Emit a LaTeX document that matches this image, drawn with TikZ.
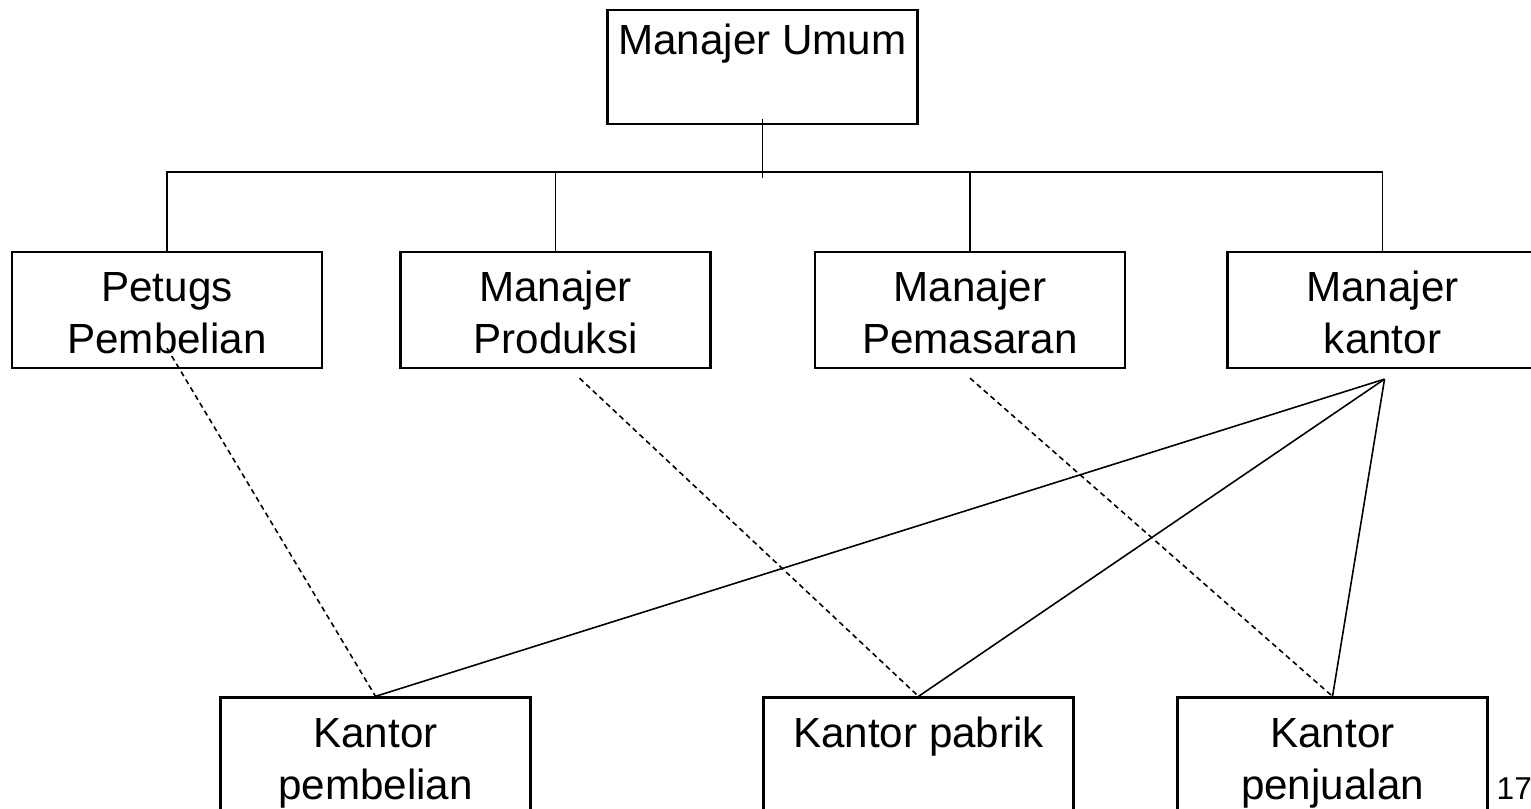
\documentclass[tikz,border=0pt]{standalone}
\usepackage{fontspec}
\setmainfont{Liberation Sans}
\usepackage{tikz}
\tikzset{>=latex}
\tikzset{kotak/.style={draw,line width=0.65pt,inner sep=0pt,minimum width=3.1cm,text height=0.5cm,text depth=0.66cm,font=\fontsize{12}{14.8}\selectfont},
  garis/.style={line width=0.45pt},
  putus/.style={line width=0.45pt,dash pattern=on 1.5pt off 1.1pt}}
\newcommand{\isikotak}[1]{\begin{tabular}[t]{@{}c@{}}#1\end{tabular}}

\begin{document}
\begin{tikzpicture}
  \useasboundingbox (0,0) rectangle (15.31,8.09);
  \node[kotak,text height=0.45cm,text depth=0.69cm] (mu) at (7.625,7.42) {\isikotak{Manajer Umum}};
  \node[kotak] (pb) at (1.67,4.99) {\isikotak{Petugs\\Pembelian}};
  \node[kotak] (mp) at (5.555,4.99) {\isikotak{Manajer\\Produksi}};
  \node[kotak] (mpm) at (9.70,4.99) {\isikotak{Manajer\\Pemasaran}};
  \node[kotak] (mk) at (13.825,4.99) {\isikotak{Manajer\\kantor}};
  \node[kotak] (kpb) at (3.755,0.535) {\isikotak{Kantor\\pembelian}};
  \node[kotak] (kpa) at (9.185,0.535) {\isikotak{Kantor pabrik}};
  \node[kotak] (kpj) at (13.325,0.535) {\isikotak{Kantor\\penjualan}};
  \node[anchor=base west,inner sep=0pt,font=\fontsize{9}{11}\selectfont] (hal) at (14.96,0.09) {17};
  \coordinate (bus) at (7.625,6.37);
  \draw[garis] ([yshift=0.06cm]mu.south) -- ([yshift=-0.06cm]bus);
  \draw[garis] (pb.north) -- (pb.north |- bus) -- (mk.north |- bus) -- (mk.north);
  \draw[garis] (mp.north) -- (mp.north |- bus);
  \draw[garis] (mpm.north) -- (mpm.north |- bus);
  \draw[putus] ([yshift=0.21cm]pb.south) -- (kpb.north);
  \draw[putus] ([xshift=0.24cm,yshift=-0.09cm]mp.south) -- (kpa.north);
  \draw[putus] ([yshift=-0.09cm]mpm.south) -- (kpj.north);
  \draw[garis] ([xshift=0.02cm,yshift=-0.1cm]mk.south) -- (kpb.north);
  \draw[garis] ([xshift=0.02cm,yshift=-0.1cm]mk.south) -- (kpa.north);
  \draw[garis] ([xshift=0.02cm,yshift=-0.1cm]mk.south) -- (kpj.north);
\end{tikzpicture}
\end{document}
